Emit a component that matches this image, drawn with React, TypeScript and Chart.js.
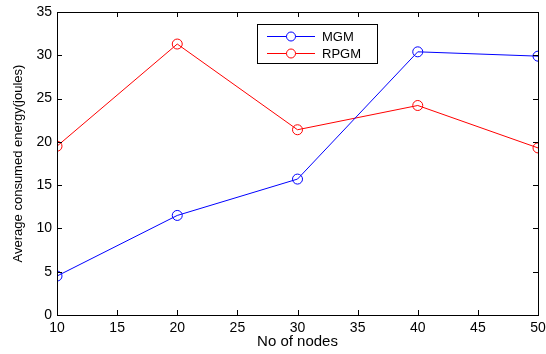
import React, { useEffect, useRef } from "react";
import { Chart, registerables } from "chart.js";
Chart.register(...registerables);

const nodes = [10, 20, 30, 40, 50];
const mgm = [4.5, 11.5, 15.7, 30.4, 29.9];
const rpgm = [19.5, 31.3, 21.4, 24.2, 19.3];
const seriesNames = ["MGM", "RPGM"];
const seriesColors = ["#0000ff", "#ff0000"];
const xTickValues = [10, 15, 20, 25, 30, 35, 40, 45, 50];
const yTickValues = [0, 5, 10, 15, 20, 25, 30, 35];
const xTitle = "No of nodes";
const yTitle = "Average consumed energy(joules)";

const FONT = "'Liberation Sans', Arial, Helvetica, sans-serif";

const framePlugin = {
  id: "matlabFrame",
  afterDraw(chart: any) {
    const { ctx, chartArea } = chart;
    const { left, right, top, bottom } = chartArea;
    const xs = chart.scales.x;
    const ys = chart.scales.y;
    ctx.save();
    ctx.strokeStyle = "#000";
    ctx.lineWidth = 1;
    ctx.strokeRect(Math.round(left) + 0.5, Math.round(top) + 0.5, Math.round(right - left), Math.round(bottom - top));
    const tl = 5;
    ctx.beginPath();
    xTickValues.forEach((v) => {
      const px = Math.round(xs.getPixelForValue(v)) + 0.5;
      ctx.moveTo(px, bottom);
      ctx.lineTo(px, bottom - tl);
      ctx.moveTo(px, top);
      ctx.lineTo(px, top + tl);
    });
    yTickValues.forEach((v) => {
      const py = Math.round(ys.getPixelForValue(v)) + 0.5;
      ctx.moveTo(left, py);
      ctx.lineTo(left + tl, py);
      ctx.moveTo(right, py);
      ctx.lineTo(right - tl, py);
    });
    ctx.stroke();

    // legend box
    const bx = 257, by = 24, bw = 120, bh = 39;
    ctx.fillStyle = "#fff";
    ctx.fillRect(bx, by, bw, bh);
    ctx.strokeRect(bx + 0.5, by + 0.5, bw, bh);
    ctx.font = "13px " + FONT;
    ctx.textBaseline = "middle";
    ctx.textAlign = "left";
    seriesNames.forEach((name, i) => {
      const y = by + 12.5 + i * 17;
      ctx.strokeStyle = seriesColors[i];
      ctx.beginPath();
      ctx.moveTo(267, y);
      ctx.lineTo(315, y);
      ctx.stroke();
      ctx.beginPath();
      ctx.arc(291, y, 4.5, 0, Math.PI * 2);
      ctx.fillStyle = "#fff";
      ctx.fill();
      ctx.stroke();
      ctx.fillStyle = "#000";
      ctx.fillText(name, 322, y + 1);
    });
    ctx.restore();
  },
};

export default function App() {
  const ref = useRef<HTMLCanvasElement>(null);
  useEffect(() => {
    const c = ref.current;
    if (!c) return;
    const mk = (vals: number[]) => nodes.map((x, i) => ({ x, y: vals[i] }));
    const chart = new Chart(c, {
      type: "line",
      data: {
        datasets: [mgm, rpgm].map((vals, i) => ({
          label: seriesNames[i],
          data: mk(vals),
          borderColor: seriesColors[i],
          backgroundColor: "rgba(0,0,0,0)",
          borderWidth: 1,
          pointRadius: 5,
          pointBorderWidth: 1,
          pointBorderColor: seriesColors[i],
          pointBackgroundColor: "rgba(0,0,0,0)",
          tension: 0,
          fill: false,
        })),
      },
      options: {
        animation: false,
        responsive: false,
        devicePixelRatio: 1,
        layout: { padding: { top: 12, right: 8, left: 0, bottom: 0 } },
        plugins: { legend: { display: false }, tooltip: { enabled: false } },
        scales: {
          x: {
            type: "linear",
            min: 10,
            max: 50,
            grid: { display: false, drawTicks: false },
            border: { display: false },
            afterBuildTicks: (s: any) => {
              s.ticks = xTickValues.map((v) => ({ value: v }));
            },
            ticks: { color: "#000", font: { family: FONT, size: 14 }, padding: 5, maxRotation: 0, autoSkip: false },
            title: { display: true, text: xTitle, color: "#000", font: { family: FONT, size: 15 }, padding: { top: 0, bottom: 3 } },
            afterFit: (s: any) => {
              s.height = 39;
              s.paddingLeft = 0;
              s.paddingRight = 0;
            },
          },
          y: {
            min: 0,
            max: 35,
            grid: { display: false, drawTicks: false },
            border: { display: false },
            afterBuildTicks: (s: any) => {
              s.ticks = yTickValues.map((v) => ({ value: v }));
            },
            ticks: { color: "#000", font: { family: FONT, size: 14 }, padding: 5 },
            title: { display: true, text: yTitle, color: "#000", font: { family: FONT, size: 13 }, padding: { top: 11, bottom: 0 } },
            afterFit: (s: any) => {
              s.width = 57;
              s.paddingTop = 0;
              s.paddingBottom = 0;
            },
          },
        },
      },
      plugins: [framePlugin],
    } as any);
    return () => chart.destroy();
  }, []);
  return (
    <div style={{ position: "fixed", left: 0, top: 0, width: 546, height: 354, background: "#fff" }}>
      <canvas ref={ref} width={546} height={354} style={{ width: 546, height: 354 }} />
    </div>
  );
}
